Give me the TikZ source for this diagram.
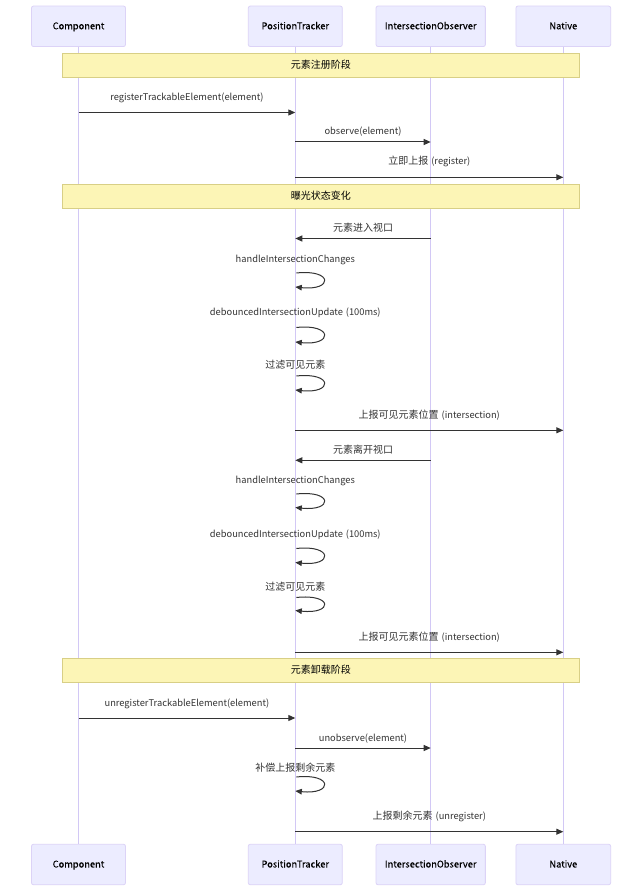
\documentclass[tikz,border=0pt]{standalone}
\usepackage{fontspec}
\setmainfont{Noto Sans CJK SC}
\newfontfamily\actfont[FakeBold=0.15]{Noto Sans CJK SC}
\usetikzlibrary{arrows.meta,calc}
\definecolor{actfill}{HTML}{ECECFF}
\definecolor{actdraw}{HTML}{DCD3F7}
\definecolor{lifeln}{HTML}{D2C8F5}
\definecolor{notefill}{HTML}{FCF5B6}
\definecolor{notedraw}{HTML}{D8CF86}
\definecolor{ink}{HTML}{333333}
\newcommand{\zh}[1]{{\fontsize{10}{12}\selectfont #1}}
\newcommand{\wsp}{\hspace{3pt}}
\newcommand{\mymsg}[6]{%
  \coordinate (#1a) at (0,#4);
  \coordinate (#1l) at (0,#5);
  \coordinate (#1m) at ($(#2)!0.5!(#3)$);
  \draw[msgline] (#2 |- #1a) -- (#3 |- #1a);
  \node[lbl] (#1t) at (#1m |- #1l) {#6};
}
\newcommand{\myloop}[5]{%
  \coordinate (#1p) at (0,#2);
  \coordinate (#1q) at (0,#3);
  \coordinate (#1l) at (0,#4);
  \draw[loopline] ($(pT |- #1p)+(1,0)$) .. controls ($(pT |- #1p)+(38,-4)$) and ($(pT |- #1q)+(38,4)$) .. (pT |- #1q);
  \node[lbl] (#1t) at (pT |- #1l) {#5};
}
\begin{document}
\begin{tikzpicture}[x=1pt,y=-1pt,
  actor/.style={draw=actdraw, fill=actfill, rounded corners=2pt, minimum height=40.5pt,
    text=black, font=\actfont\fontsize{9.3}{11}\selectfont, inner sep=0pt, line width=0.8pt,
    text height=7.5pt, text depth=1.5pt},
  life/.style={draw=lifeln, line width=1pt},
  notebox/.style={draw=notedraw, fill=notefill, minimum width=517pt, minimum height=24pt,
    text=black, font=\fontsize{10}{12}\selectfont, inner sep=0pt, line width=0.9pt,
    text height=8pt, text depth=1.5pt},
  msgline/.style={draw=ink, line width=1pt, -{Triangle[length=7pt,width=6pt]}},
  loopline/.style={draw=ink, line width=1pt, -{Triangle[length=6.5pt,width=5.5pt]}},
  lbl/.style={text=ink, font=\fontsize{9.3}{11}\selectfont, inner sep=0pt, text height=8pt,
    text depth=2pt, yshift=-1pt},
]
\useasboundingbox[fill=white] (0,0) rectangle (642,890);

% actors top
\node[actor, minimum width=94pt]    (cT) at (78.5,26.3)  {Component};
\node[actor, minimum width=94pt]    (pT) at (295.3,26.3) {PositionTracker};
\node[actor, minimum width=109.3pt] (iT) at (430.7,26.3) {IntersectionObserver};
\node[actor, minimum width=94.7pt]  (nT) at (563.3,26.3) {Native};
% actors bottom
\node[actor, minimum width=94pt]    (cB) at (78.5,864.5)  {Component};
\node[actor, minimum width=94pt]    (pB) at (295.3,864.5) {PositionTracker};
\node[actor, minimum width=109.3pt] (iB) at (430.7,864.5) {IntersectionObserver};
\node[actor, minimum width=94.7pt]  (nB) at (563.3,864.5) {Native};

% lifelines
\draw[life] (cT.south) -- (cB.north);
\draw[life] (pT.south) -- (pB.north);
\draw[life] (iT.south) -- (iB.north);
\draw[life] (nT.south) -- (nB.north);

% notes
\node[notebox] (note1) at (320.8,65.3)  {元素注册阶段};
\node[notebox] (note2) at (320.8,196)   {曝光状态变化};
\node[notebox] (note3) at (320.8,670.5) {元素卸载阶段};

% phase 1
\mymsg{ma}{cT}{pT}{112.5}{97}{registerTrackableElement(element)}
\mymsg{mb}{pT}{iT}{142}{131}{observe(element)}
\mymsg{mc}{pT}{nT}{177.3}{161}{\zh{立即上报}\wsp(register)}

% phase 2
\mymsg{md}{iT}{pT}{238.5}{228}{\zh{元素进入视口}}
\myloop{la}{273}{287}{258}{handleIntersectionChanges}
\myloop{lb}{327.5}{342}{311.5}{debouncedIntersectionUpdate\wsp(100ms)}
\myloop{lc}{376}{390}{364.5}{\zh{过滤可见元素}}
\mymsg{me}{pT}{nT}{430.3}{414}{\zh{上报可见元素位置}\wsp(intersection)}
\mymsg{mf}{iT}{pT}{460.3}{449}{\zh{元素离开视口}}
\myloop{ld}{494}{507.5}{479}{handleIntersectionChanges}
\myloop{le}{548.5}{562.5}{533}{debouncedIntersectionUpdate\wsp(100ms)}
\myloop{lf}{597.5}{610.5}{586.5}{\zh{过滤可见元素}}
\mymsg{mg}{pT}{nT}{652.3}{636}{\zh{上报可见元素位置}\wsp(intersection)}

% phase 3
\mymsg{mh}{cT}{pT}{718}{702}{unregisterTrackableElement(element)}
\mymsg{mi}{pT}{iT}{748}{737}{unobserve(element)}
\myloop{lg}{777}{791}{767}{\zh{补偿上报剩余元素}}
\mymsg{mj}{pT}{nT}{831.7}{815.5}{\zh{上报剩余元素}\wsp(unregister)}
\end{tikzpicture}
\end{document}
